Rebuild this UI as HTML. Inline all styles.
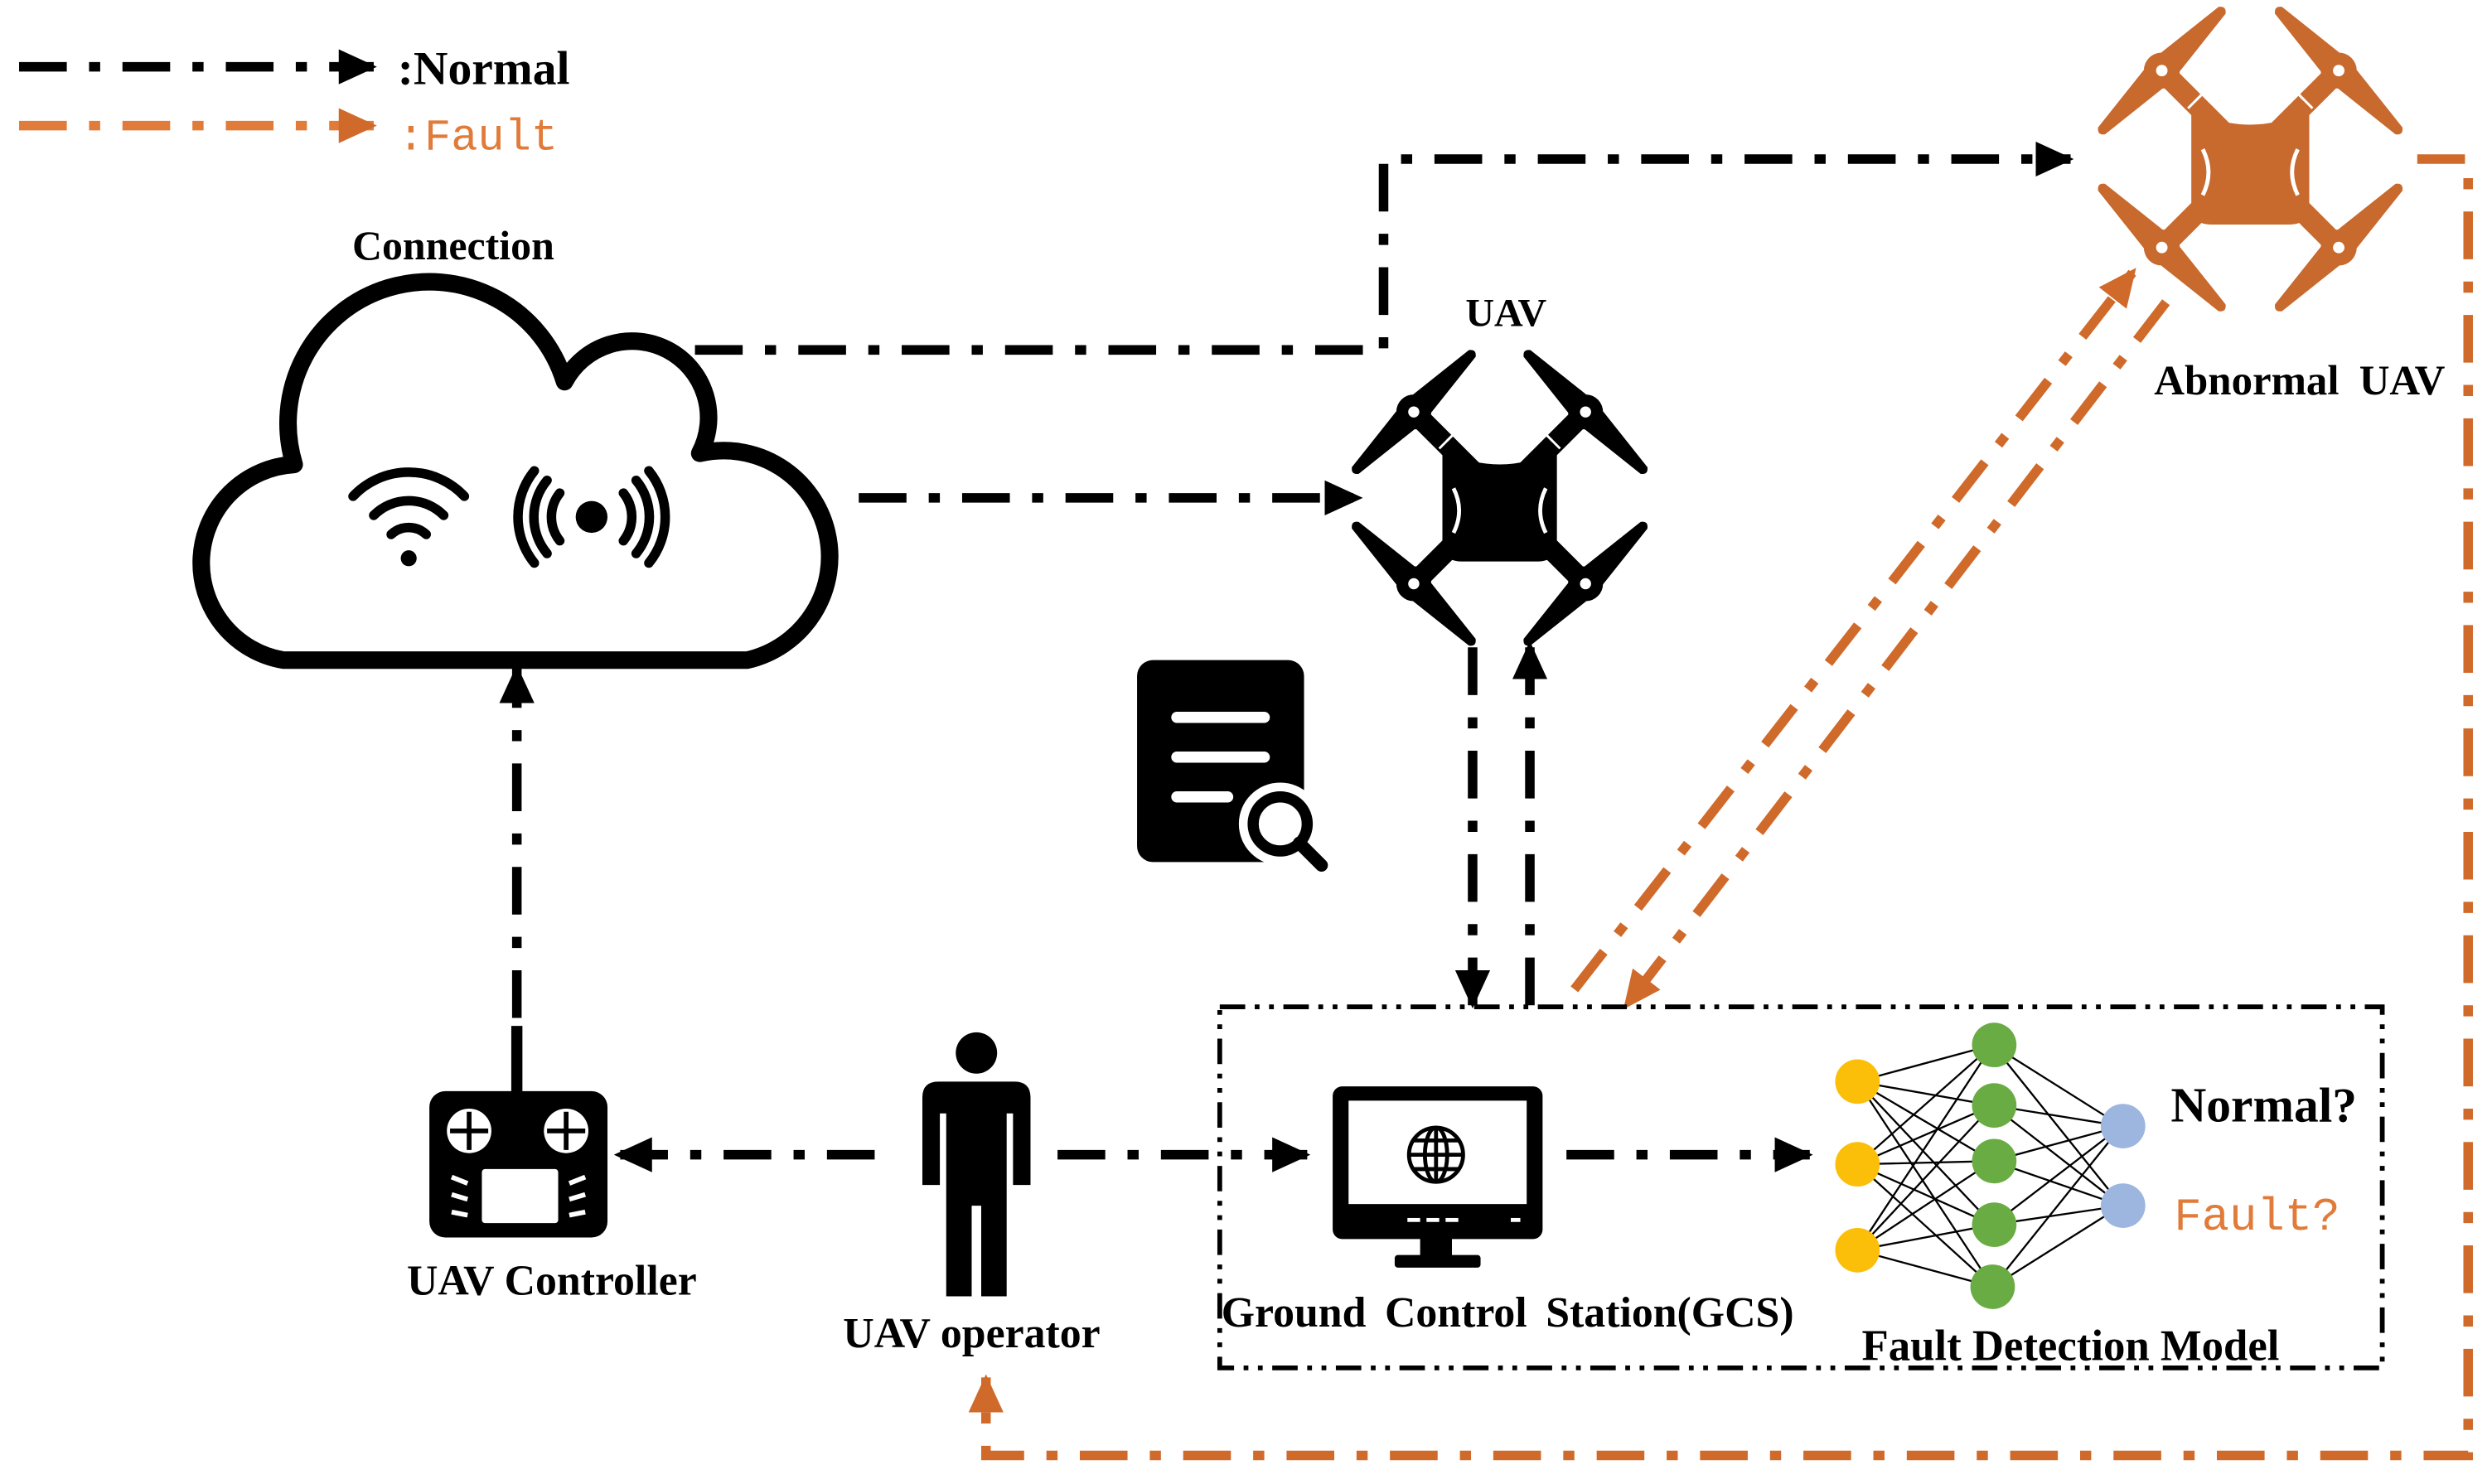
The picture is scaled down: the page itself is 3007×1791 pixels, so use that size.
<!DOCTYPE html>
<html><head><meta charset="utf-8"><style>
html,body{margin:0;padding:0;background:#fff;}
svg{display:block;}
text{font-family:"Liberation Serif",serif;font-weight:bold;fill:#000;}
.mono{font-family:"Liberation Mono",monospace;font-weight:normal;fill:#e07b39;}
</style></head><body>
<svg width="3007" height="1791" viewBox="0 0 1567 933" preserveAspectRatio="none" xmlns="http://www.w3.org/2000/svg">
<defs>
<marker id="ab" markerUnits="userSpaceOnUse" markerWidth="24" markerHeight="22" refX="22" refY="11" orient="auto"><path d="M0,0 L24,11 L0,22 Z" fill="#000"/></marker>
<marker id="ao" markerUnits="userSpaceOnUse" markerWidth="24" markerHeight="22" refX="22" refY="11" orient="auto"><path d="M0,0 L24,11 L0,22 Z" fill="#d06a2a"/></marker>
<g id="blade"><path d="M-52,-3 L-8,-8 L8,-8 L52,-3 Q56,0 52,3 L8,8 L-8,8 L-52,3 Q-56,0 -52,-3 Z" stroke="none"/></g>
<g id="drone">
  <line x1="-54" y1="-54" x2="54" y2="54" stroke-width="13"/>
  <line x1="54" y1="-54" x2="-54" y2="54" stroke-width="13"/>
  <use href="#blade" transform="translate(-54,-54) rotate(-45)"/>
  <use href="#blade" transform="translate(54,-54) rotate(45)"/>
  <use href="#blade" transform="translate(-54,54) rotate(45)"/>
  <use href="#blade" transform="translate(54,54) rotate(-45)"/>
  <circle cx="-54" cy="-54" r="11" stroke="none"/><circle cx="54" cy="-54" r="11" stroke="none"/>
  <circle cx="-54" cy="54" r="11" stroke="none"/><circle cx="54" cy="54" r="11" stroke="none"/>
  <circle cx="-54" cy="-54" r="3.5" fill="#fff" stroke="none"/><circle cx="54" cy="-54" r="3.5" fill="#fff" stroke="none"/>
  <circle cx="-54" cy="54" r="3.5" fill="#fff" stroke="none"/><circle cx="54" cy="54" r="3.5" fill="#fff" stroke="none"/>
  <path d="M-36,-30 Q0,-12 36,-30 L36,34 Q32,40 24,40 L-24,40 Q-32,40 -36,34 Z" stroke="none"/>
  <line x1="-38" y1="-31" x2="-30" y2="-39" stroke="#fff" stroke-width="1.5"/>
  <line x1="-33" y1="-36" x2="-25" y2="-44" stroke="#fff" stroke-width="1.5"/>
  <line x1="38" y1="-31" x2="30" y2="-39" stroke="#fff" stroke-width="1.5"/>
  <line x1="33" y1="-36" x2="25" y2="-44" stroke="#fff" stroke-width="1.5"/>
  <path d="M-29,-6 Q-22,8 -29,22" stroke="#fff" stroke-width="2.5" fill="none"/>
  <path d="M29,-6 Q22,8 29,22" stroke="#fff" stroke-width="2.5" fill="none"/>
</g>
</defs>

<!-- legend -->
<line x1="12" y1="42" x2="235" y2="42" stroke="#000" stroke-width="6" stroke-dasharray="30 14 7 14" marker-end="url(#ab)"/>
<text x="250" y="53" font-size="30">:Normal</text>
<line x1="12" y1="79" x2="235" y2="79" stroke="#e07b39" stroke-width="6" stroke-dasharray="30 14 7 14" marker-end="url(#ao)"/>
<text x="250" y="94" font-size="28" class="mono">:Fault</text>

<!-- cloud -->
<text x="285" y="163" font-size="26" text-anchor="middle">Connection</text>
<path d="M178,415 A62,62 0 0 1 185,292 A88,88 0 0 1 355,240 A48,48 0 0 1 440,285 A66,66 0 0 1 470,415 Z" fill="#fff" stroke="#000" stroke-width="11" stroke-linejoin="round"/>
<g fill="none" stroke="#000" stroke-width="6" stroke-linecap="round">
  <path d="M246,336 A16,16 0 0 1 268,336"/>
  <path d="M235,324 A31,31 0 0 1 279,324"/>
  <path d="M222,312 A48,48 0 0 1 292,312"/>
  <path d="M352,310 A24,24 0 0 0 352,340"/><path d="M392,310 A24,24 0 0 1 392,340"/>
  <path d="M344,302 A36,36 0 0 0 344,348"/><path d="M400,302 A36,36 0 0 1 400,348"/>
  <path d="M336,296 A46,46 0 0 0 336,354"/><path d="M408,296 A46,46 0 0 1 408,354"/>
</g>
<circle cx="257" cy="351" r="5" fill="#000"/>
<circle cx="372" cy="325" r="10" fill="#000"/>

<!-- black connectors -->
<g fill="none" stroke="#000" stroke-width="6" stroke-dasharray="30 14 7 14">
  <polyline points="437,220 870,220 870,100 1302,100" marker-end="url(#ab)"/>
  <line x1="540" y1="313" x2="855" y2="313" marker-end="url(#ab)"/>
  <line x1="926" y1="407" x2="926" y2="632" marker-end="url(#ab)"/>
  <line x1="962" y1="632" x2="962" y2="405" marker-end="url(#ab)"/>
  <line x1="325" y1="640" x2="325" y2="420" marker-end="url(#ab)"/>
  <line x1="550" y1="726" x2="388" y2="726" marker-end="url(#ab)"/>
  <line x1="665" y1="726" x2="822" y2="726" marker-end="url(#ab)"/>
  <line x1="985" y1="726" x2="1138" y2="726" marker-end="url(#ab)"/>
</g>

<!-- orange connectors -->
<g fill="none" stroke="#d06a2a" stroke-width="6" stroke-dasharray="30 14 7 14">
  <polyline points="1520,100 1552,100 1552,915 620,915 620,866" marker-end="url(#ao)"/>
  <line x1="990" y1="622" x2="1342" y2="170" marker-end="url(#ao)"/>
  <line x1="1362" y1="190" x2="1022" y2="633" marker-end="url(#ao)"/>
</g>

<!-- drones -->
<text x="947" y="205" font-size="25" text-anchor="middle">UAV</text>
<use href="#drone" x="943" y="313" fill="#000" stroke="#000"/>
<g transform="translate(1415,100) scale(1.03)"><use href="#drone" fill="#c8692e" stroke="#c8692e"/></g>
<text x="1446" y="248" font-size="26.5" text-anchor="middle" word-spacing="6">Abnormal UAV</text>

<!-- document -->
<rect x="715" y="415" width="105" height="127" rx="10" fill="#000"/>
<g stroke="#fff" stroke-width="7" stroke-linecap="round">
  <line x1="740" y1="451" x2="795" y2="451"/><line x1="740" y1="476" x2="795" y2="476"/><line x1="740" y1="501" x2="772" y2="501"/>
</g>
<circle cx="805" cy="518" r="26" fill="#fff"/>
<circle cx="805" cy="518" r="17" fill="#fff" stroke="#000" stroke-width="7"/>
<line x1="817" y1="530" x2="831" y2="544" stroke="#000" stroke-width="8" stroke-linecap="round"/>

<!-- controller -->
<line x1="325" y1="645" x2="325" y2="690" stroke="#000" stroke-width="7"/>
<rect x="270" y="686" width="112" height="92" rx="10" fill="#000"/>
<g fill="#fff"><circle cx="295" cy="711" r="14"/><circle cx="356" cy="711" r="14"/></g>
<g stroke="#000" stroke-width="3"><line x1="283" y1="711" x2="307" y2="711"/><line x1="295" y1="699" x2="295" y2="723"/><line x1="344" y1="711" x2="368" y2="711"/><line x1="356" y1="699" x2="356" y2="723"/></g>
<rect x="303" y="735" width="48" height="34" rx="2" fill="#fff"/>
<g stroke="#fff" stroke-width="3"><line x1="284" y1="740" x2="294" y2="744"/><line x1="284" y1="751" x2="294" y2="754"/><line x1="284" y1="762" x2="294" y2="764"/><line x1="368" y1="740" x2="358" y2="744"/><line x1="368" y1="751" x2="358" y2="754"/><line x1="368" y1="762" x2="358" y2="764"/></g>
<text x="347" y="814" font-size="27" text-anchor="middle">UAV Controller</text>

<!-- person -->
<circle cx="614" cy="662" r="13" fill="#000"/>
<path d="M590,680 L638,680 Q648,680 648,690 L648,745 L637,745 L637,700 L633,700 L633,815 L617,815 L617,758 L611,758 L611,815 L595,815 L595,700 L591,700 L591,745 L580,745 L580,690 Q580,680 590,680 Z" fill="#000"/>
<text x="611" y="847" font-size="27" text-anchor="middle">UAV operator</text>

<!-- GCS box -->
<rect x="767" y="633" width="731" height="227" fill="none" stroke="#000" stroke-width="3" stroke-dasharray="16 6 3 6 3 6"/>
<rect x="838" y="683" width="132" height="96" rx="6" fill="#000"/>
<rect x="848" y="692" width="112" height="65" fill="#fff"/>
<g stroke="#fff" stroke-width="2.5"><line x1="885" y1="767" x2="893" y2="767"/><line x1="897" y1="767" x2="905" y2="767"/><line x1="909" y1="767" x2="917" y2="767"/><line x1="950" y1="767" x2="956" y2="767"/></g>
<rect x="893" y="778" width="20" height="12" fill="#000"/>
<rect x="877" y="789" width="54" height="8" rx="2" fill="#000"/>
<g fill="none" stroke="#000" stroke-width="2.5">
  <circle cx="903" cy="726" r="17"/><ellipse cx="903" cy="726" rx="7" ry="17"/>
  <line x1="886" y1="726" x2="920" y2="726"/><line x1="889" y1="717" x2="917" y2="717"/><line x1="889" y1="735" x2="917" y2="735"/><line x1="903" y1="709" x2="903" y2="743"/>
</g>
<text x="948" y="834" font-size="27" text-anchor="middle" word-spacing="5">Ground Control Station(GCS)</text>

<!-- neural net -->
<g stroke="#000" stroke-width="1.2">
  <line x1="1168" y1="680" x2="1253" y2="657"/><line x1="1168" y1="680" x2="1253" y2="695"/><line x1="1168" y1="680" x2="1253" y2="730"/><line x1="1168" y1="680" x2="1253" y2="770"/><line x1="1168" y1="680" x2="1253" y2="809"/>
  <line x1="1168" y1="732" x2="1253" y2="657"/><line x1="1168" y1="732" x2="1253" y2="695"/><line x1="1168" y1="732" x2="1253" y2="730"/><line x1="1168" y1="732" x2="1253" y2="770"/><line x1="1168" y1="732" x2="1253" y2="809"/>
  <line x1="1168" y1="786" x2="1253" y2="657"/><line x1="1168" y1="786" x2="1253" y2="695"/><line x1="1168" y1="786" x2="1253" y2="730"/><line x1="1168" y1="786" x2="1253" y2="770"/><line x1="1168" y1="786" x2="1253" y2="809"/>
  <line x1="1253" y1="657" x2="1334" y2="708"/><line x1="1253" y1="695" x2="1334" y2="708"/><line x1="1253" y1="730" x2="1334" y2="708"/><line x1="1253" y1="770" x2="1334" y2="708"/><line x1="1253" y1="809" x2="1334" y2="708"/>
  <line x1="1253" y1="657" x2="1334" y2="758"/><line x1="1253" y1="695" x2="1334" y2="758"/><line x1="1253" y1="730" x2="1334" y2="758"/><line x1="1253" y1="770" x2="1334" y2="758"/><line x1="1253" y1="809" x2="1334" y2="758"/>
</g>
<g fill="#fbbf0a"><circle cx="1168" cy="680" r="14"/><circle cx="1168" cy="732" r="14"/><circle cx="1168" cy="786" r="14"/></g>
<g fill="#6aac44"><circle cx="1254" cy="657" r="14"/><circle cx="1254" cy="695" r="14"/><circle cx="1254" cy="730" r="14"/><circle cx="1254" cy="770" r="14"/><circle cx="1253" cy="809" r="14"/></g>
<g fill="#9db6e0"><circle cx="1335" cy="708" r="14"/><circle cx="1335" cy="758" r="14"/></g>
<text x="1365" y="705" font-size="31">Normal?</text>
<text x="1367" y="773" font-size="29" class="mono">Fault?</text>
<text x="1302" y="855" font-size="27.5" text-anchor="middle">Fault Detection Model</text>
</svg>
</body></html>
